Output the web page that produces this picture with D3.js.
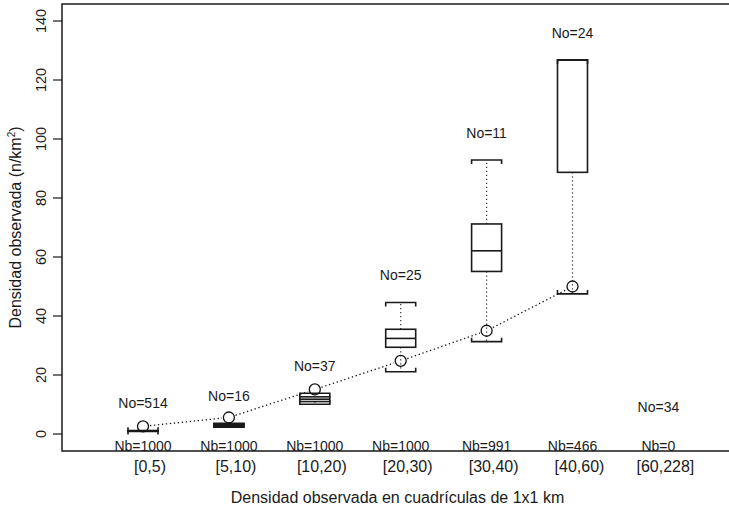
<!DOCTYPE html>
<html>
<head>
<meta charset="utf-8">
<script src="https://cdn.jsdelivr.net/npm/d3@7"></script>
<style>
  html, body { margin: 0; padding: 0; background: #fff; }
  svg { display: block; font-family: "Liberation Sans", Arial, Helvetica, sans-serif; }
</style>
</head>
<body>
<svg id="chart" width="729" height="509"></svg>
<script>
const categories = ["[0,5)", "[5,10)", "[10,20)", "[20,30)", "[30,40)", "[40,60)", "[60,228]"];
const lowWhisker  = [0.9, 2.3, 10.1, 21.1, 31.3, 47.5, null];
const q1          = [1.0, 2.5, 11.0, 29.4, 55.1, 88.7, null];
const median      = [1.0, 2.9, 11.8, 32.4, 62.1, 126.8, null];
const q3          = [1.1, 3.3, 12.6, 35.5, 71.2, 126.8, null];
const highWhisker = [1.2, 3.6, 13.8, 44.6, 92.9, 126.8, null];
const observed    = [2.6, 5.6, 15.1, 24.8, 35.0, 50.0, null];
const noCounts    = [514, 16, 37, 25, 11, 24, 34];
const nbCounts    = [1000, 1000, 1000, 1000, 991, 466, 0];
const yTicks      = [0, 20, 40, 60, 80, 100, 120, 140];

const svg = d3.select("#chart");
const frame = { left: 62, right: 740, top: 4, bottom: 451 };
const fontSize = 14;
const labelSize = 16;
const boxW = 30;
const capLen = 4;

const x = d3.scalePoint().domain(categories).range([143, 658.4]);
const y = d3.scaleLinear().domain([0, 140]).range([434, 21]);

// frame (left, top, bottom; right side lies outside the picture)
svg.append("path")
  .attr("d", `M${frame.right},${frame.top}H${frame.left}V${frame.bottom}H${frame.right}`)
  .attr("fill", "none").attr("stroke", "#1a1a1a").attr("stroke-width", 1.5);

// y axis ticks and labels
const yAxis = svg.append("g");
yTicks.forEach(t => {
  yAxis.append("line")
    .attr("x1", frame.left - 9).attr("x2", frame.left)
    .attr("y1", y(t)).attr("y2", y(t))
    .attr("stroke", "#1a1a1a").attr("stroke-width", 1.2);
  yAxis.append("text")
    .attr("transform", `translate(45.5,${y(t)}) rotate(-90)`)
    .attr("text-anchor", "middle")
    .attr("font-size", 14.5).attr("fill", "#1a1a1a")
    .text(t);
});

// y title
const yt = svg.append("text")
  .attr("transform", `translate(20.5,${(frame.top + frame.bottom) / 2}) rotate(-90)`)
  .attr("text-anchor", "middle").attr("font-size", labelSize).attr("fill", "#1a1a1a");
yt.append("tspan").text("Densidad observada (n/km");
yt.append("tspan").attr("font-size", 10).attr("dy", -6).text("2");
yt.append("tspan").attr("dy", 6).text(")");

// x title
svg.append("text")
  .attr("x", 397.5).attr("y", 503)
  .attr("text-anchor", "middle").attr("font-size", labelSize).attr("fill", "#1a1a1a")
  .text("Densidad observada en cuadrículas de 1x1 km");

// category labels
categories.forEach(c => {
  svg.append("text")
    .attr("x", x(c) + 7).attr("y", 472)
    .attr("text-anchor", "middle").attr("font-size", labelSize).attr("fill", "#1a1a1a")
    .text(c);
});

// connecting dotted line between observed points (with gaps round points)
const obsPts = categories.map((c, i) => ({ c, v: observed[i] })).filter(d => d.v != null);
const r = 5.5;
for (let i = 0; i < obsPts.length - 1; i++) {
  const x1 = x(obsPts[i].c), y1 = y(obsPts[i].v);
  const x2 = x(obsPts[i + 1].c), y2 = y(obsPts[i + 1].v);
  const len = Math.hypot(x2 - x1, y2 - y1);
  const ux = (x2 - x1) / len, uy = (y2 - y1) / len;
  const g = r + 1.5;
  svg.append("line")
    .attr("x1", x1 + ux * g).attr("y1", y1 + uy * g)
    .attr("x2", x2 - ux * g).attr("y2", y2 - uy * g)
    .attr("stroke", "#111").attr("stroke-width", 1.3)
    .attr("stroke-dasharray", "1.3,2.7");
}

// boxplots
categories.forEach((c, i) => {
  if (lowWhisker[i] == null) return;
  const cx = x(c);
  const g = svg.append("g");
  const stroke = "#1a1a1a";
  // whiskers
  g.append("line").attr("x1", cx).attr("x2", cx)
    .attr("y1", y(q3[i])).attr("y2", y(highWhisker[i]))
    .attr("stroke", "#333").attr("stroke-width", 1.2).attr("stroke-dasharray", "1.2,2.8");
  g.append("line").attr("x1", cx).attr("x2", cx)
    .attr("y1", y(q1[i])).attr("y2", y(lowWhisker[i]))
    .attr("stroke", "#333").attr("stroke-width", 1.2).attr("stroke-dasharray", "1.2,2.8");
  // staples (bracket shapes pointing towards the box)
  const hy = y(highWhisker[i]), ly = y(lowWhisker[i]);
  g.append("path")
    .attr("d", `M${cx - boxW / 2},${hy + capLen}V${hy}H${cx + boxW / 2}V${hy + capLen}`)
    .attr("fill", "none").attr("stroke", stroke).attr("stroke-width", 1.6);
  g.append("path")
    .attr("d", `M${cx - boxW / 2},${ly - capLen}V${ly}H${cx + boxW / 2}V${ly - capLen}`)
    .attr("fill", "none").attr("stroke", stroke).attr("stroke-width", 1.6);
  // box
  g.append("rect")
    .attr("x", cx - boxW / 2).attr("width", boxW)
    .attr("y", y(q3[i])).attr("height", Math.max(0.01, y(q1[i]) - y(q3[i])))
    .attr("fill", "none").attr("stroke", stroke).attr("stroke-width", 1.6);
  g.append("line")
    .attr("x1", cx - boxW / 2).attr("x2", cx + boxW / 2)
    .attr("y1", y(median[i])).attr("y2", y(median[i]))
    .attr("stroke", stroke).attr("stroke-width", 1.6);
});

// observed points
obsPts.forEach(d => {
  svg.append("circle")
    .attr("cx", x(d.c)).attr("cy", y(d.v)).attr("r", r)
    .attr("fill", "none").attr("stroke", "#111").attr("stroke-width", 1.3);
});

// No= labels above each box
categories.forEach((c, i) => {
  const top = highWhisker[i] != null ? highWhisker[i] : 0;
  svg.append("text")
    .attr("x", x(c)).attr("y", y(top) - 22)
    .attr("text-anchor", "middle").attr("font-size", fontSize).attr("fill", "#1a1a1a")
    .text("No=" + noCounts[i]);
});

// Nb= labels on the bottom axis
categories.forEach((c, i) => {
  svg.append("text")
    .attr("x", x(c)).attr("y", 451)
    .attr("text-anchor", "middle").attr("font-size", fontSize).attr("fill", "#1a1a1a")
    .text("Nb=" + nbCounts[i]);
});
</script>
</body>
</html>
